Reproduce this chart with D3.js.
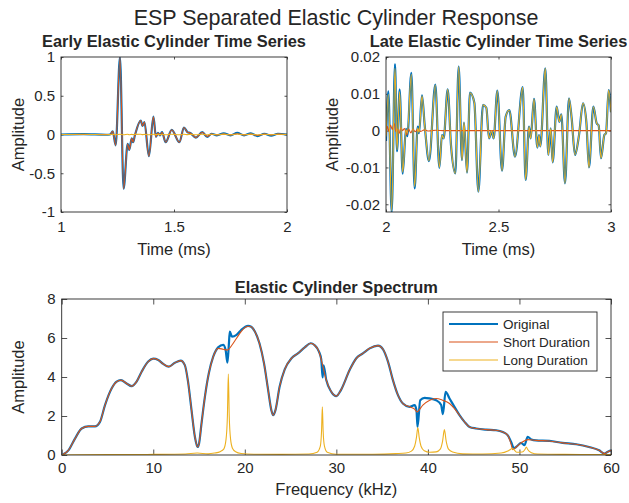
<!DOCTYPE html>
<html>
<head>
<meta charset="utf-8">
<script src="https://cdn.jsdelivr.net/npm/d3@7"></script>
<style>
  body { margin: 0; background: #fff; }
  svg { display: block; }
  text { font-family: "Liberation Sans", Arial, Helvetica, sans-serif; fill: #262626; }
</style>
</head>
<body>
<svg id="fig" width="629" height="503"></svg>
<script>
// ---- Early window (1–2 ms): shared sample times and the three signals ----
const earlyTime = [1.0, 1.1, 1.2, 1.217, 1.229, 1.242, 1.261, 1.277, 1.295, 1.302, 1.313, 1.319,
  1.327, 1.353, 1.361, 1.369, 1.389, 1.409, 1.420, 1.429, 1.438, 1.447, 1.463, 1.490,
  1.524, 1.544, 1.560, 1.572, 1.597, 1.625, 1.647, 1.666, 1.69, 1.72, 1.75, 1.78,
  1.81, 1.84, 1.87, 1.90, 1.93, 1.96, 2.0];
const earlyOriginal = [0, 0.004, -0.003, 0, 0.04, -0.14, 1.0, -0.70, -0.12, -0.20, -0.05, -0.10,
  -0.01, 0.18, 0.11, 0.16, -0.28, 0.23, -0.03, 0.02, -0.01, 0.03, -0.10, 0.06,
  -0.10, 0.09, 0.03, 0.02, -0.04, 0.03, -0.03, 0.01, -0.01, 0.015, -0.01, 0.02,
  -0.01, 0.015, -0.02, 0.01, -0.015, 0.01, 0];
const earlyShort = [0, 0, 0, 0, 0.04, -0.14, 1.0, -0.70, -0.12, -0.20, -0.05, -0.10,
  -0.01, 0.18, 0.11, 0.16, -0.28, 0.23, -0.03, 0.02, -0.01, 0.03, -0.10, 0.06,
  -0.10, 0.09, 0.03, 0.02, -0.04, 0.03, -0.025, 0.005, -0.005, 0.005, -0.005, 0.01,
  -0.005, 0.005, -0.01, 0.005, -0.005, 0.005, 0];
const earlyLong = [0, 0.003, -0.003, 0, 0.002, -0.003, 0.004, -0.004, 0.003, -0.003, 0.002, -0.002,
  0.002, 0.003, -0.002, 0.002, -0.003, 0.003, -0.002, 0.002, -0.002, 0.002, -0.003, 0.003,
  -0.003, 0.003, -0.002, 0.002, -0.003, 0.003, -0.004, 0.004, -0.004, 0.005, -0.004, 0.006,
  -0.004, 0.005, -0.006, 0.004, -0.004, 0.004, 0];

// ---- Late window (2–3 ms) ----
const lateTime = [2.000, 2.0104, 2.0252, 2.0400, 2.0489, 2.0607, 2.0741, 2.0889, 2.0948, 2.1126,
  2.1274, 2.1407, 2.1467, 2.1600, 2.1719, 2.1911, 2.2193, 2.2370, 2.2489, 2.2563,
  2.2741, 2.2889, 2.3081, 2.3230, 2.3378, 2.3467, 2.3600, 2.3733, 2.3926, 2.4104,
  2.4311, 2.4459, 2.4578, 2.4696, 2.4785, 2.4948, 2.5156, 2.5319, 2.5481, 2.5733,
  2.6074, 2.6207, 2.6356, 2.6430, 2.6578, 2.6726, 2.6800, 2.6859, 2.7081, 2.7215,
  2.7319, 2.7407, 2.7585, 2.7704, 2.7793, 2.7956, 2.8133, 2.8252, 2.8400, 2.8578,
  2.8756, 2.8904, 2.9022, 2.9215, 2.9363, 2.9452, 2.9556, 2.9704, 2.9778, 2.9896, 3.000];
const lateLong = [-0.0016, 0.0099, -0.0218, 0.0169, -0.0052, 0.0106, -0.0113, 0.0002, -0.0007, 0.0153,
  -0.0152, 0.0008, -0.0005, 0.0094, 0.0015, -0.0082, 0.0124, -0.0100, -0.0012, -0.0021,
  0.0112, -0.0040, -0.0116, 0.0174, -0.0080, 0.0022, -0.0114, 0.0103, 0.0076, -0.0166,
  0.0070, 0.0062, -0.0021, -0.0001, -0.0021, 0.0109, -0.0109, 0.0038, 0.0056, -0.0071,
  0.0118, -0.0134, 0.0011, -0.0021, 0.0086, -0.0046, -0.0012, -0.0043, 0.0169, -0.0066,
  0.0006, -0.0086, 0.0065, 0.0024, 0.0044, -0.0143, 0.0088, 0.0033, -0.0066, -0.0012,
  0.0074, 0.0024, -0.0100, 0.0065, 0.0020, 0.0014, -0.0075, -0.0012, -0.0007, 0.0110, 0.0050];
const lateOriginal = [-0.0028, 0.0107, -0.0222, 0.0181, -0.0056, 0.0112, -0.0117, 0.0005, -0.0015, 0.0157,
  -0.0157, 0.0011, -0.0007, 0.0096, 0.0015, -0.0083, 0.0125, -0.0101, -0.0012, -0.0021,
  0.0112, -0.0040, -0.0116, 0.0174, -0.0080, 0.0022, -0.0114, 0.0103, 0.0076, -0.0166,
  0.0070, 0.0062, -0.0021, -0.0001, -0.0021, 0.0109, -0.0109, 0.0038, 0.0056, -0.0071,
  0.0118, -0.0134, 0.0011, -0.0021, 0.0086, -0.0046, -0.0012, -0.0043, 0.0169, -0.0066,
  0.0006, -0.0086, 0.0065, 0.0024, 0.0044, -0.0143, 0.0088, 0.0033, -0.0066, -0.0012,
  0.0074, 0.0024, -0.0100, 0.0065, 0.0020, 0.0014, -0.0075, -0.0012, -0.0007, 0.0110, 0.0050];
const lateShortTime = [2.000, 2.006, 2.012, 2.020, 2.028, 2.036, 2.044, 2.052, 2.058, 2.066,
  2.074, 2.082, 2.092, 2.100, 2.110, 2.120, 2.130, 2.140, 2.155, 2.170, 2.190, 2.220, 2.260, 3.000];
const lateShort = [-0.0012, 0.0012, -0.0002, 0.0015, 0.0003, 0.0020, -0.0002, 0.0004, -0.0008, 0.0008,
  0.0000, 0.0006, -0.0012, 0.0005, -0.0006, 0.0004, -0.0003, 0.0003, -0.0002, 0.0002, -0.0001, 0.0001, 0, 0];

// ---- Spectrum (kHz, amplitude) ----
const specOriginal = [[0,0],[0.73,0.24],[1.45,0.84],[2.18,1.36],[2.9,1.47],[3.64,1.47],[4.18,1.70],
  [4.73,2.56],[5.45,3.41],[6.0,3.76],[6.47,3.84],[7.09,3.67],[7.64,3.53],[8.18,3.76],[8.73,4.27],
  [9.45,4.79],[10.0,4.94],[10.55,4.87],[11.09,4.67],[11.7,4.53],[12.36,4.73],[13.0,4.84],[13.45,4.61],
  [13.8,3.76],[14.18,2.30],[14.55,0.93],[14.84,0.41],[15.0,0.58],[15.27,1.61],[15.64,2.98],[16.07,4.19],
  [16.55,5.04],[17.09,5.52],[17.64,5.65],[17.9,5.4],[18.1,4.73],[18.25,5.6],[18.36,6.33],[18.6,6.07],
  [19.1,6.16],[19.6,6.41],[20.36,6.62],[20.7,6.58],[21.1,6.33],[21.6,5.73],[22.1,4.70],[22.55,3.33],
  [22.9,2.30],[23.1,2.04],[23.35,2.30],[23.8,3.50],[24.36,4.39],[25.1,4.96],[25.8,5.21],[26.55,5.52],
  [27.2,5.73],[27.6,5.64],[28.1,5.30],[28.35,4.9],[28.5,3.98],[28.6,4.6],[28.9,3.84],[29.45,3.24],
  [30.0,3.02],[30.5,3.33],[31.45,4.36],[32.18,4.96],[32.9,5.21],[33.64,5.47],[34.55,5.61],[35.1,5.42],
  [35.64,4.79],[36.18,3.84],[36.73,3.07],[37.27,2.64],[38.0,2.47],[38.55,2.56],[38.75,2.3],[38.87,1.44],
  [39.16,2.81],[39.64,2.93],[40.18,2.90],[40.9,2.81],[41.45,2.56],[41.64,2.09],[41.93,3.24],[42.36,2.90],
  [42.9,2.47],[43.45,2.04],[44.0,1.70],[44.55,1.44],[45.27,1.36],[46.36,1.30],[47.45,1.27],[48.18,1.18],
  [48.73,1.01],[49.09,0.67],[49.4,0.35],[49.64,0.41],[50.18,0.62],[50.55,0.5],[50.9,0.93],[51.3,0.8],
  [51.8,0.75],[53.27,0.72],[54.7,0.62],[56.2,0.55],[57.6,0.41],[58.7,0.24],[59.3,0.07],[59.6,0.15],[60,0.24]];
const specShort = [[0,0],[0.73,0.24],[1.45,0.84],[2.18,1.36],[2.9,1.47],[3.64,1.47],[4.18,1.70],
  [4.73,2.56],[5.45,3.41],[6.0,3.76],[6.47,3.84],[7.09,3.67],[7.64,3.53],[8.18,3.76],[8.73,4.27],
  [9.45,4.79],[10.0,4.94],[10.55,4.87],[11.09,4.67],[11.7,4.53],[12.36,4.73],[13.0,4.84],[13.45,4.61],
  [13.8,3.76],[14.18,2.30],[14.55,0.93],[14.84,0.41],[15.0,0.58],[15.27,1.61],[15.64,2.98],[16.07,4.19],
  [16.55,5.04],[17.09,5.47],[17.64,5.42],[18.1,5.38],[18.6,5.64],[19.1,5.99],[19.6,6.33],[20.36,6.6],
  [20.7,6.58],[21.1,6.33],[21.6,5.73],[22.1,4.70],[22.55,3.33],[22.9,2.30],[23.1,2.04],[23.35,2.30],
  [23.8,3.50],[24.36,4.39],[25.1,4.96],[25.8,5.21],[26.55,5.52],[27.2,5.73],[27.6,5.64],[28.1,5.30],
  [28.36,4.87],[28.9,3.84],[29.45,3.24],[30.0,3.02],[30.5,3.33],[31.45,4.36],[32.18,4.96],[32.9,5.21],
  [33.64,5.47],[34.55,5.61],[35.1,5.42],[35.64,4.79],[36.18,3.84],[36.73,3.07],[37.27,2.64],[38.0,2.47],
  [38.55,2.35],[38.8,2.21],[39.45,2.56],[40.2,2.81],[40.9,2.90],[41.6,2.81],[42.36,2.64],[42.9,2.38],
  [43.45,2.04],[44.0,1.70],[44.55,1.44],[45.27,1.36],[46.36,1.30],[47.45,1.27],[48.18,1.18],[48.73,1.01],
  [49.09,0.55],[49.27,0.27],[49.64,0.41],[50.18,0.62],[50.9,0.79],[51.8,0.75],[53.27,0.72],[54.7,0.62],
  [56.2,0.55],[57.6,0.41],[58.7,0.24],[59.3,0.07],[59.6,0.15],[60,0.24]];
const specLong = [[0,0],[5,0.02],[10,0.03],[13.5,0.05],[14.8,0.1],[16,0.06],[16.7,0.1],[17.3,0.17],
  [17.7,0.3],[17.95,0.8],[18.1,2.0],[18.2,4.15],[18.3,2.0],[18.45,0.8],[18.65,0.35],[19.0,0.17],[19.6,0.08],[21,0.04],
  [24,0.03],[27,0.05],[27.9,0.14],[28.25,0.45],[28.38,1.2],[28.47,2.47],[28.56,1.2],[28.7,0.45],[29.0,0.14],[30,0.04],
  [34,0.04],[36.5,0.07],[37.6,0.1],[38.2,0.2],[38.55,0.45],[38.75,0.9],[38.9,1.41],[39.05,0.9],[39.25,0.45],[39.6,0.22],
  [40.2,0.14],[40.9,0.16],[41.35,0.3],[41.6,0.7],[41.8,1.30],[42.0,0.7],[42.25,0.3],[42.7,0.15],[43.8,0.06],[46,0.05],
  [48,0.1],[48.8,0.22],[49.25,0.33],[49.7,0.14],[50.3,0.15],[50.6,0.28],[50.75,0.41],[50.9,0.28],[51.3,0.12],[52,0.05],
  [55,0.03],[60,0.02]];

// ---- Ticks and labels ----
const earlyXTicks = [1, 1.5, 2];
const earlyYTicks = [-1, -0.5, 0, 0.5, 1];
const lateXTicks = [2, 2.5, 3];
const lateYTicks = [-0.02, -0.01, 0, 0.01, 0.02];
const specXTicks = [0, 10, 20, 30, 40, 50, 60];
const specYTicks = [0, 2, 4, 6, 8];
const seriesNames = ["Original", "Short Duration", "Long Duration"];
const seriesColors = ["#0072BD", "#D95319", "#EDB120"];
const seriesWidths = [2.2, 1.1, 1.1];

const svg = d3.select("#fig");
const ink = "#262626";
const fmt = d => String(d);

// Boxed axes with inward ticks on all four sides
function makeAxes(cfg) {
  const x = d3.scaleLinear().domain(cfg.xDomain).range([cfg.left, cfg.right]);
  const y = d3.scaleLinear().domain(cfg.yDomain).range([cfg.bottom, cfg.top]);
  const g = svg.append("g");
  const len = cfg.tickLen;

  const style = sel => {
    sel.select(".domain").remove();
    sel.selectAll(".tick line").attr("stroke", ink).attr("stroke-width", 0.8);
    sel.selectAll("text").attr("font-family", null).style("font-size", "15px").attr("fill", ink);
    sel.attr("font-family", null).attr("font-size", null);
  };

  g.append("g").attr("transform", `translate(0,${cfg.bottom})`)
    .call(d3.axisBottom(x).tickValues(cfg.xTicks).tickSize(-len).tickPadding(cfg.xPad).tickFormat(fmt)).call(style);
  g.append("g").attr("transform", `translate(0,${cfg.top})`)
    .call(d3.axisTop(x).tickValues(cfg.xTicks).tickSize(-len).tickFormat("")).call(style);
  g.append("g").attr("transform", `translate(${cfg.left},0)`)
    .call(d3.axisLeft(y).tickValues(cfg.yTicks).tickSize(-len).tickPadding(cfg.yPad).tickFormat(fmt)).call(style);
  g.append("g").attr("transform", `translate(${cfg.right},0)`)
    .call(d3.axisRight(y).tickValues(cfg.yTicks).tickSize(-len).tickFormat("")).call(style);

  const clipId = "clip-" + cfg.id;
  svg.append("clipPath").attr("id", clipId).append("rect")
    .attr("x", cfg.left).attr("y", cfg.top)
    .attr("width", cfg.right - cfg.left).attr("height", cfg.bottom - cfg.top);
  const plot = svg.append("g").attr("clip-path", `url(#${clipId})`);

  svg.append("rect").attr("x", cfg.left).attr("y", cfg.top)
    .attr("width", cfg.right - cfg.left).attr("height", cfg.bottom - cfg.top)
    .attr("fill", "none").attr("stroke", ink).attr("stroke-width", 0.9);

  svg.append("text").attr("x", (cfg.left + cfg.right) / 2).attr("y", cfg.titleY)
    .attr("text-anchor", "middle").style("font-size", cfg.titleSize + "px").style("font-weight", "bold")
    .text(cfg.title);
  svg.append("text").attr("x", (cfg.left + cfg.right) / 2).attr("y", cfg.xLabelY)
    .attr("text-anchor", "middle").style("font-size", "16.5px").text(cfg.xLabel);
  svg.append("text").attr("transform", `translate(${cfg.yLabelX},${(cfg.top + cfg.bottom) / 2}) rotate(-90)`)
    .attr("text-anchor", "middle").style("font-size", "16.5px").text("Amplitude");

  return { x, y, plot };
}

function drawLine(ax, pts, i) {
  const line = d3.line().x(d => ax.x(d[0])).y(d => ax.y(d[1])).curve(d3.curveMonotoneX);
  ax.plot.append("path").datum(pts).attr("d", line)
    .attr("fill", "none").attr("stroke", seriesColors[i]).attr("stroke-width", seriesWidths[i])
    .attr("stroke-linejoin", "round");
}
const zip = (t, v) => t.map((ti, k) => [ti, v[k]]);

// Figure title
svg.append("text").attr("x", 336).attr("y", 25).attr("text-anchor", "middle")
  .style("font-size", "21.5px").text("ESP Separated Elastic Cylinder Response");

// Early time series
const early = makeAxes({ id: "early", left: 61, right: 287, top: 57, bottom: 212,
  xDomain: [1, 2], yDomain: [-1, 1], xTicks: earlyXTicks, yTicks: earlyYTicks, tickLen: 2.5,
  xPad: 9, yPad: 6, title: "Early Elastic Cylinder Time Series", titleY: 46.5, titleSize: 16.4,
  xLabel: "Time (ms)", xLabelY: 255, yLabelX: 24 });
drawLine(early, zip(earlyTime, earlyOriginal), 0);
drawLine(early, zip(earlyTime, earlyShort), 1);
drawLine(early, zip(earlyTime, earlyLong), 2);

// Late time series
const late = makeAxes({ id: "late", left: 386, right: 611, top: 57, bottom: 212,
  xDomain: [2, 3], yDomain: [-0.0221, 0.02], xTicks: lateXTicks, yTicks: lateYTicks, tickLen: 2.5,
  xPad: 9, yPad: 6, title: "Late Elastic Cylinder Time Series", titleY: 46.5, titleSize: 16.4,
  xLabel: "Time (ms)", xLabelY: 255, yLabelX: 338 });
drawLine(late, zip(lateTime, lateOriginal), 0);
drawLine(late, zip(lateShortTime, lateShort), 1);
drawLine(late, zip(lateTime, lateLong), 2);

// Spectrum
const spec = makeAxes({ id: "spec", left: 61.7, right: 611, top: 299, bottom: 455,
  xDomain: [0, 60], yDomain: [0, 8], xTicks: specXTicks, yTicks: specYTicks, tickLen: 5.5,
  xPad: 7, yPad: 6, title: "Elastic Cylinder Spectrum", titleY: 293, titleSize: 16.4,
  xLabel: "Frequency (kHz)", xLabelY: 495, yLabelX: 24 });
drawLine(spec, specOriginal, 0);
drawLine(spec, specShort, 1);
drawLine(spec, specLong, 2);

// Legend
const leg = svg.append("g");
leg.append("rect").attr("x", 443).attr("y", 312).attr("width", 154).attr("height", 59)
  .attr("fill", "#fff").attr("stroke", ink).attr("stroke-width", 0.9);
seriesNames.forEach((name, i) => {
  const yy = 324 + i * 18;
  leg.append("line").attr("x1", 449).attr("x2", 498).attr("y1", yy).attr("y2", yy)
    .attr("stroke", seriesColors[i]).attr("stroke-width", seriesWidths[i]);
  leg.append("text").attr("x", 503).attr("y", yy + 4.8).style("font-size", "13.5px").text(name);
});
</script>
</body>
</html>
